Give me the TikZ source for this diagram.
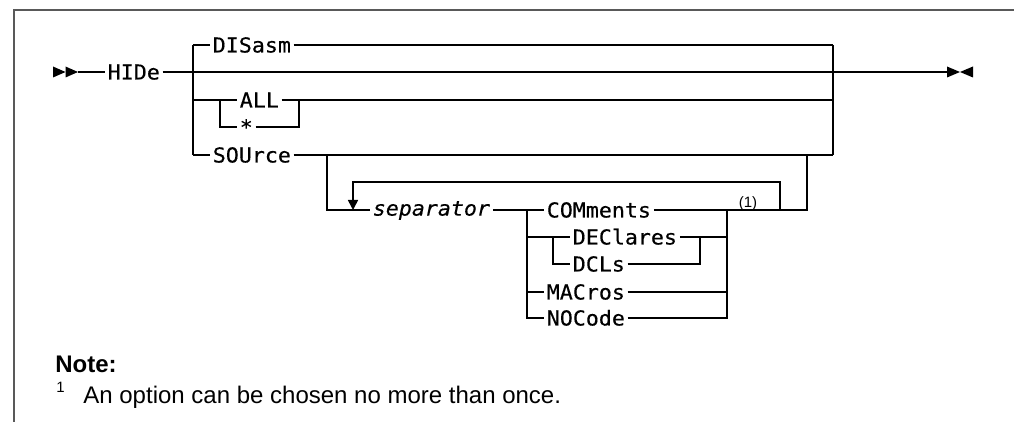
\documentclass[tikz,border=0pt]{standalone}
\usepackage{fontspec}
\setmainfont{Liberation Sans}
\newfontfamily\railfont[FakeStretch=1.05,FakeBold=0.4]{DejaVu Sans Mono}
\usepackage{tikz}
\usetikzlibrary{arrows.meta,calc}
\newcommand{\rf}{\railfont\fontsize{10.3pt}{12pt}\selectfont}
\tikzset{
  kw/.style  ={font=\rf,anchor=west,inner xsep=1.2pt,inner ysep=0pt,text height=7.5pt,text depth=0pt},
  var/.style ={kw,font=\rf\itshape,text height=5.6pt},
  rail/.style={line width=0.8pt,line join=miter},
  loopar/.style={rail,-{Triangle[length=5pt,width=5pt]}},
  tip/.style ={fill=black},
  frame/.style={line width=1pt,black!65},
  fnote/.style={font=\fontsize{12pt}{14pt}\selectfont,anchor=base west,inner sep=0pt},
  fnmark/.style={font=\fontsize{7.5pt}{8pt}\selectfont,inner sep=0pt},
}

\begin{document}
\begin{tikzpicture}[x=0.5pt,y=-0.5pt]
  \useasboundingbox (0,0) rectangle (1014,422);
  \draw[frame] (14,422) -- (14,10) -- (1014,10);

  % columns of the branch bars
  \coordinate (aL) at (193,0);  \coordinate (aR) at (833,0);
  \coordinate (bL) at (220,0);  \coordinate (bR) at (299,0);
  \coordinate (sL) at (327,0);  \coordinate (sR) at (807,0);
  \coordinate (rL) at (353,182);\coordinate (rR) at (780,182);
  \coordinate (cL) at (527,0);  \coordinate (cR) at (727,0);
  \coordinate (dL) at (553,0);  \coordinate (dR) at (700,0);
  \coordinate (start) at (78,72);
  \coordinate (stop) at (947,72);

  % keywords
  \node[kw] (hide)     at (105,72)  {HIDe};
  \node[kw] (disasm)   at (210,45)  {DISasm};
  \node[kw] (all)      at (237,100) {ALL};
  \node[kw] (star)     at (237,127) {*};
  \node[kw] (source)   at (210,155) {SOUrce};
  \node[var] (sep)     at (370,210) {separator};
  \node[kw] (comments) at (544,210) {COMments};
  \node[kw] (declares) at (570,237) {DEClares};
  \node[kw] (dcls)     at (570,264) {DCLs};
  \node[kw] (macros)   at (544,292) {MACros};
  \node[kw] (nocode)   at (544,318) {NOCode};
  \node[fnmark] (ref1) at (748,204) {(1)};

  % end marks
  \fill[tip] (start) -- ++(-12.5,-5.5) -- ++(0,11) -- cycle;
  \fill[tip] (start) ++(-12.5,0) -- ++(-12.5,-5.5) -- ++(0,11) -- cycle;
  \fill[tip] (stop) ++(13,0) -- ++(-13,-5.5) -- ++(0,11) -- cycle;
  \fill[tip] (stop) ++(13,0) -- ++(13,-5.5) -- ++(0,11) -- cycle;

  % main line
  \draw[rail] (start) -- (hide.west);
  \draw[rail] (hide.east) -- (stop);

  % first choice
  \draw[rail] (aL |- disasm) -- (aL |- source);
  \draw[rail] (aR |- disasm) -- (aR |- source);
  \draw[rail] (aL |- disasm) -- (disasm.west);
  \draw[rail] (disasm.east) -- (aR |- disasm);
  \draw[rail] (aL |- all) -- (all.west);
  \draw[rail] (all.east) -- (aR |- all);
  \draw[rail] (bL |- all) -- (bL |- star) -- (star.west);
  \draw[rail] (star.east) -- (bR |- star) -- (bR |- all);
  \draw[rail] (aL |- source) -- (source.west);
  \draw[rail] (source.east) -- (aR |- source);

  % repeat group under SOUrce
  \draw[rail] (sL |- source) -- (sL |- sep) -- (sep.west);
  \draw[loopar] (rR |- sep) -- (rR) -- (rL) -- (rL |- sep);
  \draw[rail] (sep.east) -- (cL |- sep) -- (comments.west);
  \draw[rail] (comments.east) -- (sR |- comments) -- (sR |- source);

  % options
  \draw[rail] (cL |- comments) -- (cL |- nocode) -- (nocode.west);
  \draw[rail] (nocode.east) -- (cR |- nocode) -- (cR |- comments);
  \draw[rail] (cL |- declares) -- (declares.west);
  \draw[rail] (dL |- declares) -- (dL |- dcls) -- (dcls.west);
  \draw[rail] (declares.east) -- (cR |- declares);
  \draw[rail] (dcls.east) -- (dR |- dcls) -- (dR |- declares);
  \draw[rail] (cL |- macros) -- (macros.west);
  \draw[rail] (macros.east) -- (cR |- macros);

  % note
  \node[fnote] (notehead) at (55,373) {\bfseries Note:};
  \node[fnmark,anchor=base west] (fnmark) at (56,393) {1};
  \node[fnote] (notetext) at (83,404) {An option can be chosen no more than once.};
\end{tikzpicture}
\end{document}
